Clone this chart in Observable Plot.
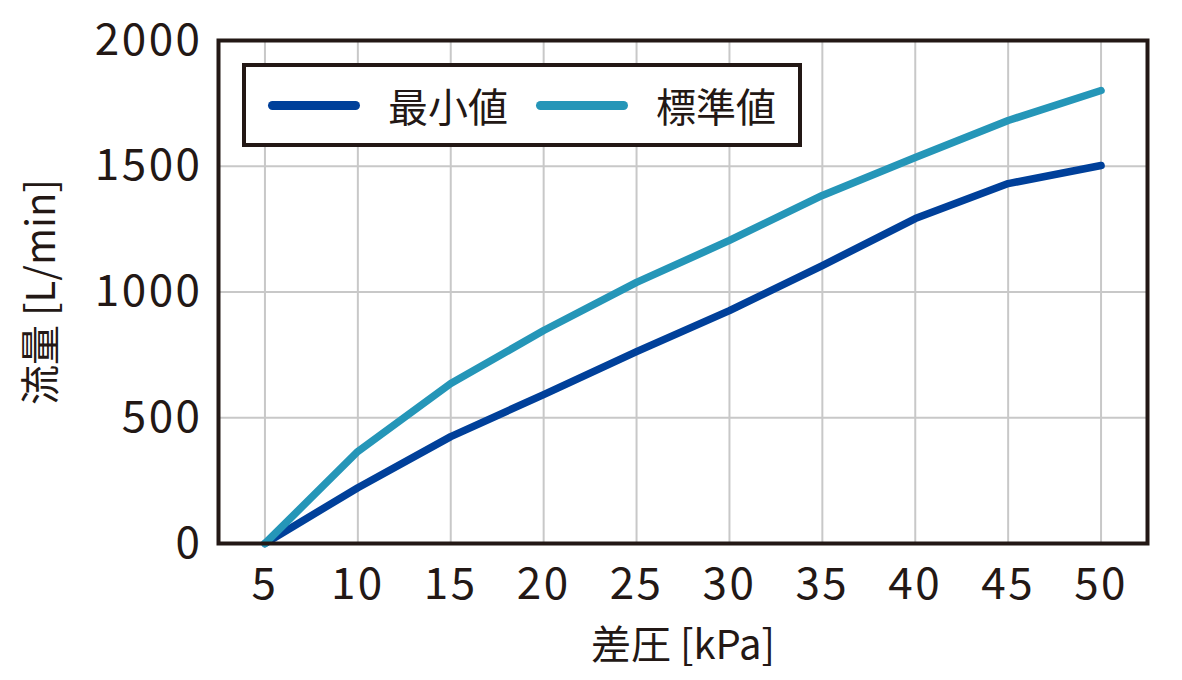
<!DOCTYPE html>
<html>
<head>
<meta charset="utf-8">
<script src="https://cdn.jsdelivr.net/npm/d3@7"></script>
<script src="https://cdn.jsdelivr.net/npm/@observablehq/plot@0.6"></script>
<style>
  html, body { margin: 0; padding: 0; background: #fff; }
  #wrap { position: relative; width: 1182px; height: 680px; font-family: "Noto Sans CJK JP", "Noto Sans", sans-serif; }
  #wrap svg g[aria-label^="x-axis tick label"] text, #wrap svg g[aria-label^="y-axis tick label"] text { letter-spacing: 2.5px; }
  #legend { position: absolute; left: 242px; top: 63px; width: 552px; height: 76px; border: 4px solid #231815; background: #fff; box-sizing: content-box; }
  #legend .item { position: absolute; top: 0; height: 76px; display: flex; align-items: center; font-size: 40px; color: #231815; }
  #legend .sw { display: inline-block; width: 92px; height: 9px; border-radius: 5px; margin-right: 28px; }
</style>
</head>
<body>
<div id="wrap"></div>
<script>
const pressure = [5, 10, 15, 20, 25, 30, 35, 40, 45, 50];
const minFlow = [0, 222, 425, 592, 763, 926, 1105, 1292, 1431, 1503];
const stdFlow = [0, 366, 636, 847, 1038, 1205, 1384, 1535, 1682, 1801];
const seriesNames = ["最小値", "標準値"];
const seriesColors = ["#00409a", "#2596b8"];
const xTicks = [5, 10, 15, 20, 25, 30, 35, 40, 45, 50];
const yTicks = [0, 500, 1000, 1500, 2000];
const xLabel = "差圧 [kPa]";
const yLabel = "流量 [L/min]";

const rows = [];
pressure.forEach((p, i) => {
  rows.push({series: seriesNames[0], x: p, y: minFlow[i]});
  rows.push({series: seriesNames[1], x: p, y: stdFlow[i]});
});

const ink = "#231815";
const chart = Plot.plot({
  width: 1182,
  height: 680,
  marginLeft: 218,
  marginRight: 35,
  marginTop: 40,
  marginBottom: 137,
  style: {fontFamily: '"Noto Sans CJK JP", "Noto Sans", sans-serif', background: "#fff", color: ink},
  x: {domain: [2.5, 52.5]},
  y: {domain: [0, 2000]},
  color: {domain: seriesNames, range: seriesColors},
  marks: [
    Plot.gridX(xTicks, {stroke: "#c8c8c8", strokeOpacity: 1, strokeWidth: 2}),
    Plot.gridY(yTicks, {stroke: "#c8c8c8", strokeOpacity: 1, strokeWidth: 2}),
    Plot.line(rows, {x: "x", y: "y", z: "series", stroke: "series", strokeWidth: 7.5, strokeLinecap: "round", strokeLinejoin: "round"}),
    Plot.frame({stroke: ink, strokeWidth: 4}),
    Plot.axisX(xTicks, {tickSize: 0, tickPadding: 24, fontSize: 44, label: null, fill: ink, tickFormat: d => String(d)}),
    Plot.axisY(yTicks, {tickSize: 0, tickPadding: 16, fontSize: 44, label: null, fill: ink, tickFormat: d => String(d)}),
    Plot.text([xLabel], {frameAnchor: "bottom", dy: 103, fontSize: 40, fill: ink, lineAnchor: "middle"}),
    Plot.text([yLabel], {frameAnchor: "left", dx: -176, rotate: -90, fontSize: 40, fill: ink, lineAnchor: "middle", textAnchor: "middle"})
  ]
});
const wrap = document.getElementById("wrap");
wrap.appendChild(chart);

const legend = document.createElement("div");
legend.id = "legend";
const lefts = [22, 290];
seriesNames.forEach((name, i) => {
  const item = document.createElement("div");
  item.className = "item";
  item.style.left = lefts[i] + "px";
  const sw = document.createElement("span");
  sw.className = "sw";
  sw.style.background = seriesColors[i];
  item.appendChild(sw);
  item.appendChild(document.createTextNode(name));
  legend.appendChild(item);
});
wrap.appendChild(legend);
</script>
</body>
</html>
